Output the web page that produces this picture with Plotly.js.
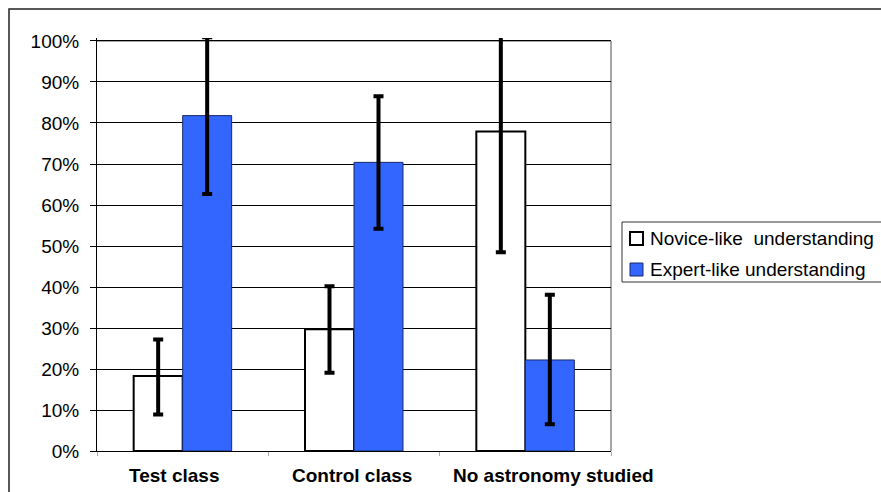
<!DOCTYPE html>
<html>
<head>
<meta charset="utf-8">
<script src="https://cdn.plot.ly/plotly-3.0.1.min.js"></script>
<style>html,body{margin:0;padding:0;background:#fff;}#chart{width:881px;height:492px;}</style>
</head>
<body>
<div id="chart"></div>
<script>
const categories = ['Test class', 'Control class', 'No astronomy studied'];
const seriesNames = ['Novice-like  understanding', 'Expert-like understanding'];
const novice = [18.3, 29.7, 77.9];
const noviceErrPlus = [8.9, 10.5, 29.4];
const noviceErrMinus = [9.4, 10.6, 29.4];
const expert = [81.8, 70.4, 22.2];
const expertErrPlus = [19.1, 16.1, 15.9];
const expertErrMinus = [19.1, 16.2, 15.7];
const yTicks = [0, 10, 20, 30, 40, 50, 60, 70, 80, 90, 100];

const FONT = '"Liberation Sans", Arial, sans-serif';
const errStyle = {type: 'data', symmetric: false, color: '#000', thickness: 4, width: 5};
const colors = [
  {fill: '#ffffff', line: '#000', lw: 2},
  {fill: '#3366ff', line: '#1a2a66', lw: 1}
];

const traces = [
  {
    type: 'bar', name: seriesNames[0], x: categories, y: novice,
    marker: {color: colors[0].fill, line: {color: colors[0].line, width: colors[0].lw}},
    error_y: Object.assign({array: noviceErrPlus, arrayminus: noviceErrMinus}, errStyle)
  },
  {
    type: 'bar', name: seriesNames[1], x: categories, y: expert,
    marker: {color: colors[1].fill, line: {color: colors[1].line, width: colors[1].lw}},
    error_y: Object.assign({array: expertErrPlus, arrayminus: expertErrMinus}, errStyle)
  }
];

const L = 97, R = 611, T = 38, B = 451;
const pw = R - L, ph = B - T;
const px = v => (v - L) / pw;
const py = v => (B - v) / ph;

// category label horizontal offsets (px) as placed in the reference
const labelShift = [-9, -2.5, 28];

const annotations = categories.map((c, i) => ({
  text: '<b>' + c + '</b>', x: i, xref: 'x', y: py(475), yref: 'paper',
  xanchor: 'center', yanchor: 'middle', showarrow: false, xshift: labelShift[i],
  font: {family: FONT, size: 19, color: '#000'}
}));

// manual legend (box extends past the right edge as in the reference)
const legendRows = [238.5, 269.5];
seriesNames.forEach((n, i) => {
  annotations.push({
    text: n, x: px(648), xref: 'paper', y: py(legendRows[i]), yref: 'paper',
    xanchor: 'left', yanchor: 'middle', showarrow: false,
    font: {family: FONT, size: 19, color: '#000'}
  });
});

const shapes = [
  {type: 'line', xref: 'paper', yref: 'y', x0: 0, x1: 1, y0: 100, y1: 100, line: {color: '#888', width: 1.5}, layer: 'below'},
  {type: 'line', xref: 'paper', yref: 'paper', x0: 1, x1: 1, y0: 0, y1: py(41), line: {color: '#888', width: 1.5}, layer: 'below'},
  {type: 'rect', xref: 'paper', yref: 'paper', x0: px(9), x1: px(900), y0: py(510), y1: py(9), line: {color: '#222', width: 1.5}, fillcolor: 'rgba(0,0,0,0)', layer: 'below'},
  {type: 'rect', xref: 'paper', yref: 'paper', x0: px(622), x1: px(900), y0: py(282), y1: py(222), line: {color: '#333', width: 1}, fillcolor: '#fff', layer: 'above'}
];
legendRows.forEach((r, i) => {
  shapes.push({type: 'rect', xref: 'paper', yref: 'paper', x0: px(630), x1: px(643), y0: py(r + 6.5), y1: py(r - 6.5),
    line: {color: i === 0 ? '#000' : colors[i].line, width: i === 0 ? 2 : 1}, fillcolor: colors[i].fill, layer: 'above'});
});

const layout = {
  width: 881, height: 492,
  margin: {l: L, r: 881 - R, t: T, b: 492 - B, pad: 0, autoexpand: false},
  paper_bgcolor: '#fff', plot_bgcolor: '#fff',
  font: {family: FONT, color: '#000', size: 17},
  barmode: 'group', bargap: 0.428, bargroupgap: 0,
  showlegend: false,
  xaxis: {
    type: 'category', range: [-0.5, categories.length - 0.5], autorange: false,
    showgrid: false, zeroline: false,
    showline: true, linecolor: '#000', linewidth: 1,
    ticks: 'outside', tickson: 'boundaries', ticklen: 4, tickcolor: '#aaa',
    showticklabels: false, automargin: false,
    fixedrange: true
  },
  yaxis: {
    range: [0, 100.73], autorange: false, tickvals: yTicks, ticktext: yTicks.map(v => v + '%'),
    showgrid: true, gridcolor: '#000', gridwidth: 1,
    zeroline: false, showline: true, linecolor: '#000', linewidth: 1,
    ticks: 'outside', ticklen: 6, tickcolor: '#000',
    tickfont: {family: FONT, size: 19, color: '#000'},
    ticklabelstandoff: 7, automargin: false,
    fixedrange: true
  },
  annotations: annotations,
  shapes: shapes
};

Plotly.newPlot('chart', traces, layout, {displayModeBar: false, staticPlot: true});
</script>
</body>
</html>
